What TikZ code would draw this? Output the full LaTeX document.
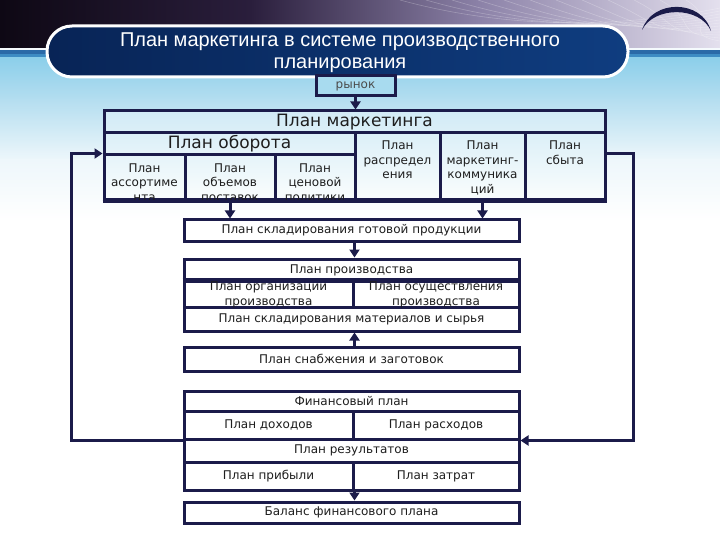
\documentclass[tikz,border=0pt]{standalone}
\usepackage{fontspec}
\setmainfont{DejaVu Sans}
\newfontfamily\titlefont{Liberation Sans}
\usetikzlibrary{arrows.meta}
\definecolor{navy}{HTML}{1B1B4A}
\definecolor{txt}{HTML}{1E1E1E}
\definecolor{hdA}{HTML}{0E0814}
\definecolor{hdB}{HTML}{2A1E3C}
\definecolor{hdC}{HTML}{8C82A8}
\definecolor{hdD}{HTML}{E4E0EE}
\definecolor{bgA}{HTML}{8CCFEA}
\definecolor{bgB}{HTML}{B5DEF0}
\definecolor{bgC}{HTML}{EEF7FB}
\definecolor{stA}{HTML}{2A6AA8}
\definecolor{stB}{HTML}{3D8CC4}
\definecolor{banA}{HTML}{082456}
\definecolor{banB}{HTML}{0F3D80}
\definecolor{mkA}{HTML}{D2EBF6}
\definecolor{mkB}{HTML}{FAFDFD}
\definecolor{ryn}{HTML}{A8DBEF}
\newcommand\fsmall{\fontsize{12pt}{14.5pt}\selectfont}
\newcommand\fbig{\fontsize{17pt}{20pt}\selectfont}
\newcommand\ftitle{\fontsize{20pt}{22pt}\selectfont}
\begin{document}
\begin{tikzpicture}[x=1pt,y=-1pt,
  frame/.style={draw=navy,line width=3pt},
  cellb/.style={frame,inner sep=0pt,rectangle,font=\fsmall,text=txt},
  arr/.style={draw=navy,line width=3pt,-{Triangle[length=8pt,width=10pt]}},
  txtn/.style={inner sep=0pt,font=\fsmall,text=txt,align=center}]
\useasboundingbox (0,0) rectangle (720,540);
% ---------- background ----------
\fill[white] (0,0) rectangle (720,540);
\shade[left color=hdA,right color=hdB] (0,0) rectangle (251,48);
\shade[left color=hdB,right color=hdC] (250,0) rectangle (481,48);
\shade[left color=hdC,right color=hdD] (480,0) rectangle (720,48);
\begin{scope}
  \clip (0,0) rectangle (720,48);
  \foreach \i in {0,...,11}
    \draw[white,opacity=0.25,line width=0.6pt]
      ({400+26*\i},0) .. controls ({480+22*\i},22) and ({590+8*\i},34) .. (720,{8+3*\i});
\end{scope}
\fill[bgC!60!white] (0,48) rectangle (720,50);
\fill[stA] (0,50) rectangle (720,54);
\fill[stB] (0,54) rectangle (720,58);
\shade[top color=bgA,bottom color=bgB] (0,58) rectangle (720,101);
\shade[top color=bgB,bottom color=bgC] (0,100) rectangle (720,161);
\shade[top color=bgC,bottom color=white] (0,160) rectangle (720,221);
% logo crescent
\fill[navy] (642,30) .. controls (652,-1) and (702,-1) .. (711,31)
  .. controls (700,6) and (654,6) .. (642,30) -- cycle;
% ---------- title ----------
\node[draw=white,line width=3pt,rounded corners=25pt,left color=banA,right color=banB,
  minimum width=581pt,minimum height=51pt,inner sep=0pt] (ban) at (337.5,51.5) {};
\node[inner sep=0pt,align=center,text=white,font=\ftitle\titlefont] (ttl) at (340,53)
  {План маркетинга в системе производственного\\планирования};
% ---------- market ----------
\node[cellb,fill=ryn,minimum width=79pt,minimum height=20pt,text=txt!80] (ryn) at (355.5,86) {рынок};
% ---------- marketing plan ----------
\node[frame,top color=mkA,bottom color=mkB,minimum width=501pt,minimum height=89pt,inner sep=0pt] (mk) at (354.5,155.5) {};
\node[cellb,minimum width=501pt,minimum height=22pt,font=\fbig] (mkt) at (354.5,122) {План маркетинга};
\node[cellb,minimum width=251pt,minimum height=22pt,font=\fbig] (obr) at (229.5,144) {План оборота};
\node[cellb,minimum width=81pt,minimum height=45pt] (c1) at (144.5,177.5) {};
\node[cellb,minimum width=90pt,minimum height=45pt] (c2) at (230,177.5) {};
\node[cellb,minimum width=80pt,minimum height=45pt] (c3) at (315,177.5) {};
\node[cellb,minimum width=85pt,minimum height=67pt] (c4) at (397.5,166.5) {};
\node[cellb,minimum width=85pt,minimum height=67pt] (c5) at (482.5,166.5) {};
\node[cellb,minimum width=80pt,minimum height=67pt] (c6) at (565,166.5) {};
\node[txtn,anchor=north] (t1) at (144.5,163.2) {План\\ассортиме\\нта};
\node[txtn,anchor=north] (t2) at (230,163.2) {План\\объемов\\поставок};
\node[txtn,anchor=north] (t3) at (315,163.2) {План\\ценовой\\политики};
\node[txtn,anchor=north] (t4) at (397.5,140.6) {План\\распредел\\ения};
\node[txtn,anchor=north] (t5) at (482.5,140.6) {План\\маркетинг-\\коммуника\\ций};
\node[txtn,anchor=north] (t6) at (565,140.6) {План\\сбыта};
\draw[frame] (mk.south west) -- (mk.south east);
% ---------- warehouse of finished goods ----------
\node[cellb,fill=white,minimum width=335pt,minimum height=21pt] (skg) at (351.5,230.5) {План складирования готовой продукции};
% ---------- production ----------
\node[frame,fill=white,minimum width=335pt,minimum height=72pt,inner sep=0pt] (prod) at (351.5,295) {};
\node[cellb,minimum width=335pt,minimum height=22pt] (prodt) at (351.5,270) {План производства};
\node[cellb,minimum width=169pt,minimum height=26pt] (org) at (268.5,294) {};
\node[cellb,minimum width=166pt,minimum height=26pt] (osu) at (436,294) {};
\node[cellb,minimum width=335pt,minimum height=24pt] (mat) at (351.5,319) {План складирования материалов и сырья};
\node[txtn,anchor=north] (torg) at (268.5,281.6) {План организации\\производства};
\node[txtn,anchor=north] (tosu) at (436,281.6) {План осуществления\\производства};
\draw[frame] (org.north west) -- (osu.north east);
% ---------- supply ----------
\node[cellb,fill=white,minimum width=335pt,minimum height=24pt] (snab) at (351.5,359) {План снабжения и заготовок};
% ---------- financial ----------
\node[frame,fill=white,minimum width=335pt,minimum height=99pt,inner sep=0pt] (fin) at (351.5,440.5) {};
\node[cellb,minimum width=335pt,minimum height=20pt] (fint) at (351.5,401) {Финансовый план};
\node[cellb,minimum width=169pt,minimum height=28pt] (doh) at (268.5,425) {План доходов};
\node[cellb,minimum width=166pt,minimum height=28pt] (ras) at (436,425) {План расходов};
\node[cellb,minimum width=335pt,minimum height=23pt] (rez) at (351.5,450.5) {План результатов};
\node[cellb,minimum width=169pt,minimum height=28pt] (prib) at (268.5,476) {План прибыли};
\node[cellb,minimum width=166pt,minimum height=28pt] (zat) at (436,476) {План затрат};
\node[cellb,fill=white,minimum width=335pt,minimum height=21pt] (bal) at (351.5,512.5) {Баланс финансового плана};
% ---------- connectors ----------
\coordinate (L) at (71,0);
\coordinate (R) at (633,0);
\draw[arr] (ryn.south) -- (mkt.north -| ryn.south);
\draw[arr] (c2.south) -- (skg.north -| c2.south);
\draw[arr] (c5.south) -- (skg.north -| c5.south);
\draw[arr] (skg.south -| org.east) -- (prodt.north -| org.east);
\draw[arr] (snab.north -| org.east) -- (mat.south -| org.east);
\draw[arr] (fin.south -| org.east) -- (bal.north -| org.east);
\draw[arr] (doh.south west) -| (L |- c1.north west) -- (c1.north west);
\draw[arr] (c6.east |- c1.north) -| (R |- ras.south east) -- (ras.south east);
\end{tikzpicture}
\end{document}
